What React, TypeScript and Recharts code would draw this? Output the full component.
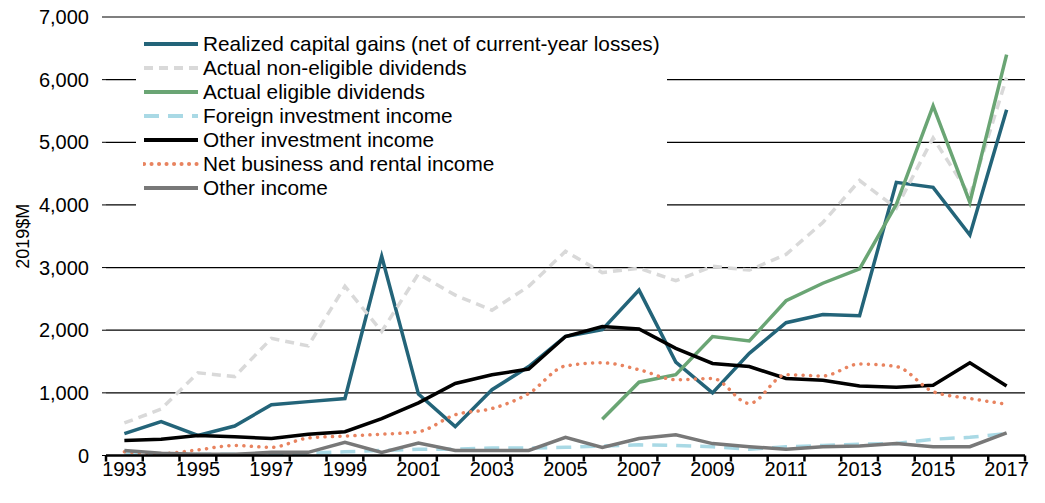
import { LineChart, Line, XAxis, YAxis, CartesianGrid, Legend } from 'recharts';

const YEARS = [1993, 1994, 1995, 1996, 1997, 1998, 1999, 2000, 2001, 2002, 2003, 2004, 2005, 2006, 2007, 2008, 2009, 2010, 2011, 2012, 2013, 2014, 2015, 2016, 2017];

const capitalGains = [350, 540, 320, 470, 810, 860, 910, 3180, 980, 460, 1050, 1420, 1900, 2010, 2640, 1490, 1000, 1630, 2120, 2250, 2230, 4360, 4280, 3520, 5520];
const nonEligibleDiv = [520, 740, 1320, 1260, 1870, 1750, 2700, 1980, 2900, 2560, 2320, 2700, 3260, 2920, 2990, 2790, 3020, 2960, 3210, 3720, 4390, 3950, 5070, 4150, 6030];
const eligibleDiv = [null, null, null, null, null, null, null, null, null, null, null, null, null, 580, 1170, 1290, 1900, 1830, 2470, 2750, 2980, 4010, 5580, 4040, 6400];
const foreignInv = [40, 20, 20, 20, 30, 40, 60, 80, 100, 100, 120, 120, 130, 150, 170, 160, 140, 100, 140, 160, 180, 190, 260, 290, 350];
const otherInv = [240, 260, 320, 300, 270, 340, 380, 590, 840, 1150, 1290, 1380, 1900, 2060, 2020, 1710, 1470, 1420, 1230, 1200, 1110, 1090, 1120, 1480, 1110];
const netBusiness = [60, 30, 90, 160, 130, 280, 310, 340, 380, 650, 750, 990, 1430, 1480, 1370, 1210, 1230, 830, 1290, 1270, 1460, 1420, 1020, 910, 820];
const otherIncome = [80, 35, 20, 20, 50, 50, 210, 50, 200, 80, 80, 80, 290, 130, 270, 330, 190, 140, 100, 140, 150, 190, 140, 140, 360];

const Y_TICKS = [0, 1000, 2000, 3000, 4000, 5000, 6000, 7000];

const SERIES = [
  { key: 'cg', name: 'Realized capital gains (net of current-year losses)', values: capitalGains, color: '#236479', dash: undefined, type: 'linear' },
  { key: 'ne', name: 'Actual non-eligible dividends', values: nonEligibleDiv, color: '#D9D9D9', dash: '9 6', type: 'linear' },
  { key: 'el', name: 'Actual eligible dividends', values: eligibleDiv, color: '#6AA574', dash: undefined, type: 'linear' },
  { key: 'fi', name: 'Foreign investment income', values: foreignInv, color: '#A9D9E5', dash: '15 9', type: 'linear' },
  { key: 'oi', name: 'Other investment income', values: otherInv, color: '#000000', dash: undefined, type: 'linear' },
  { key: 'nb', name: 'Net business and rental income', values: netBusiness, color: '#E8835F', dash: '0.1 7.4', type: 'monotone' },
  { key: 'ot', name: 'Other income', values: otherIncome, color: '#787878', dash: undefined, type: 'linear' },
];

const data = YEARS.map((year, i) => {
  const row: any = { year };
  SERIES.forEach((s) => { row[s.key] = s.values[i]; });
  return row;
});

const FONT = '"Liberation Sans", Arial, sans-serif';

function YearTick(props: any) {
  const { x, y, payload, index, width } = props;
  const half = (width ?? 919) / (YEARS.length * 2);
  const axisY = y - 6;
  return (
    <g>
      <line x1={x - half} x2={x - half} y1={axisY} y2={axisY + 6} stroke="#000" strokeWidth={2.5} />
      {index === YEARS.length - 1 && (
        <line x1={x + half} x2={x + half} y1={axisY} y2={axisY + 6} stroke="#000" strokeWidth={2.5} />
      )}
      {payload.value % 2 === 1 && (
        <text x={x} y={axisY + 20} textAnchor="middle" fontSize={20} fontFamily={FONT} fill="#000">
          {payload.value}
        </text>
      )}
    </g>
  );
}

function LegendBox() {
  return (
    <div style={{ background: '#fff', width: 531, padding: '2px 0 10px 0', fontFamily: FONT, fontSize: 20.8, color: '#000' }}>
      {SERIES.map((s) => (
        <div key={s.key} style={{ display: 'flex', alignItems: 'center', height: 24 }}>
          <svg width={60} height={24} style={{ marginLeft: 7, flexShrink: 0 }}>
            <line x1={1} x2={55} y1={12} y2={12} stroke={s.color} strokeWidth={4}
              strokeDasharray={s.dash} strokeLinecap={s.key === 'nb' ? 'round' : 'butt'} />
          </svg>
          <span style={{ whiteSpace: 'nowrap' }}>{s.name}</span>
        </div>
      ))}
    </div>
  );
}

export default function App() {
  return (
    <div style={{ position: 'absolute', left: 0, top: 0, width: 1045, height: 503, background: '#fff' }}>
      <LineChart width={1045} height={503} data={data} margin={{ top: 17, right: 20, left: 0, bottom: 0 }}>
        <CartesianGrid vertical={false} stroke="#000" strokeWidth={1.2} />
        <XAxis
          dataKey="year"
          type="number"
          domain={[1992.5, 2017.5]}
          ticks={YEARS}
          interval={0}
          height={47.5}
          tickLine={false}
          tickSize={6}
          tickMargin={0}
          axisLine={{ stroke: '#000', strokeWidth: 2.5 }}
          tick={<YearTick />}
        />
        <YAxis
          domain={[0, 7000]}
          ticks={Y_TICKS}
          width={106}
          axisLine={false}
          tickLine={{ stroke: '#000' }}
          tickSize={4}
          tickMargin={13}
          tick={{ fontSize: 20, fontFamily: FONT, fill: '#000' }}
          tickFormatter={(v: number) => v.toLocaleString('en-US')}
          label={{
            content: (p: any) => {
              const vb = p.viewBox ?? { x: 0, y: 17, height: 438 };
              const cx = vb.x + 23;
              const cy = vb.y + vb.height / 2;
              return (
                <text x={cx} y={cy} transform={`rotate(-90 ${cx} ${cy})`} textAnchor="middle" dominantBaseline="central"
                  fontSize={18} fontFamily={FONT} fill="#000">
                  2019$M
                </text>
              );
            },
          }}
        />
        <Legend
          layout="vertical"
          align="center"
          verticalAlign="middle"
          wrapperStyle={{ left: 136, top: 30, width: 531 }}
          content={() => <LegendBox />}
        />
        {SERIES.map((s) => (
          <Line
            key={s.key}
            dataKey={s.key}
            name={s.name}
            type={s.type as any}
            stroke={s.color}
            strokeWidth={3.5}
            strokeDasharray={s.dash}
            strokeLinecap={s.key === 'nb' ? 'round' : 'butt'}
            dot={false}
            activeDot={false}
            isAnimationActive={false}
          />
        ))}
      </LineChart>
    </div>
  );
}
